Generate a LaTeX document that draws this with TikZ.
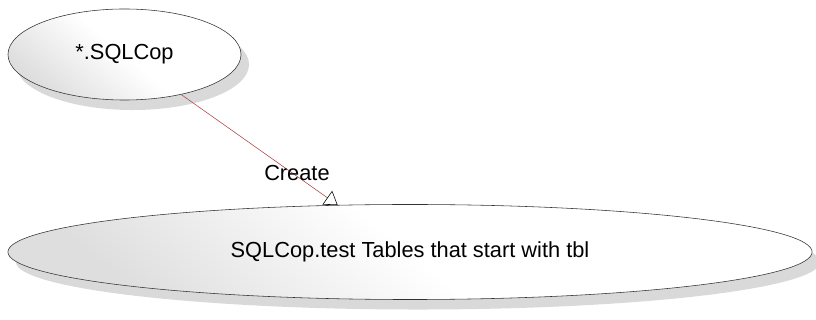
\documentclass[tikz,border=0pt]{standalone}
\usepackage{fontspec}
\setmainfont{Liberation Sans}
\usetikzlibrary{positioning,shapes.geometric,arrows.meta,shadows}

\definecolor{linkred}{RGB}{170,70,70}

\begin{document}
\begin{tikzpicture}[x=0.025cm,y=-0.025cm,
  usecase/.style={draw=black!80,ellipse,inner sep=0pt,
    font=\fontsize{15.5}{18}\selectfont,
    shading=axis,top color=white,bottom color=black!13,middle color=white,shading angle=-40,
    drop shadow={shadow xshift=0.2cm,shadow yshift=-0.25cm,fill=black,opacity=0.15}},
  flow/.style={draw=linkred,-{Triangle[open,length=9pt,width=12pt,color=black]}}]
\useasboundingbox (0,0) rectangle (816,320);
\node[usecase,minimum width=5.825cm,minimum height=2.275cm] (sqlcop) at (124.5,54.5) {*.SQLCop};
\node[usecase,minimum width=20.1cm,minimum height=2.375cm] (test) at (410,252)
  {SQLCop.test Tables that start with tbl};
\draw[flow] (sqlcop) -- (test.147)
  node[pos=0.74,above=-7pt,font=\fontsize{15.5}{18}\selectfont] (create) {Create};
\end{tikzpicture}
\end{document}
